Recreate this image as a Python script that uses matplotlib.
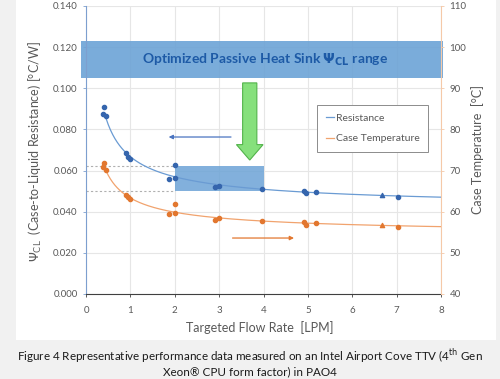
import matplotlib
matplotlib.use("Agg")
import matplotlib.pyplot as plt
import numpy as np
from matplotlib.lines import Line2D
from matplotlib.patches import Rectangle

# measured points (circle markers)
flow = [0.41, 0.39, 0.45, 0.90, 0.95, 0.99, 1.86, 2.00, 2.00, 2.91, 3.00, 3.96, 4.92, 4.95, 5.18, 7.02]
resistance = [0.0908, 0.0875, 0.0865, 0.0687, 0.0667, 0.0656, 0.0558, 0.0626, 0.0564,
              0.0519, 0.0525, 0.0509, 0.0502, 0.0490, 0.0496, 0.0470]
case_temp = [71.8, 70.8, 70.1, 64.1, 63.5, 63.0, 59.4, 61.9, 59.6,
             58.0, 58.4, 57.8, 57.5, 56.8, 57.3, 56.4]
# points drawn with triangle markers
flow_tri = [6.67]
resistance_tri = [0.0483]
case_temp_tri = [56.8]

x_ticks = [0, 1, 2, 3, 4, 5, 6, 7, 8]
y_ticks = [0.000, 0.020, 0.040, 0.060, 0.080, 0.100, 0.120, 0.140]
t_ticks = [40, 50, 60, 70, 80, 90, 100, 110]

BLUE = "#3565ad"
BLUE_LINE = "#6a9bd3"
ORANGE = "#e2772f"
ORANGE_LINE = "#f1a36e"
GREY = "#595959"


def fit_curve(x, y, xs):
    # y = a + b * x^-p, p picked by least squares
    x = np.asarray(x)
    y = np.asarray(y)
    best = None
    for p in np.linspace(0.2, 3.0, 141):
        A = np.column_stack([np.ones_like(x), x ** -p])
        coef, _, _, _ = np.linalg.lstsq(A, y, rcond=None)
        err = np.sum((A @ coef - y) ** 2)
        if best is None or err < best[0]:
            best = (err, p, coef)
    _, p, coef = best
    return coef[0] + coef[1] * xs ** -p


plt.rcParams["font.family"] = ["Lato", "DejaVu Sans"]

fig = plt.figure(figsize=(5.0, 3.79), dpi=100)
fig.patch.set_facecolor("#f1f1f1")
fig.patches.append(Rectangle((16 / 500, 1 - 340 / 379), 480 / 500, 340 / 379,
                             transform=fig.transFigure, facecolor="white",
                             edgecolor="none", zorder=-5))

ax = fig.add_axes([0.172, 0.2243, 0.71, 0.76])
ax.set_facecolor("none")
ax2 = ax.twinx()

ax.set_xlim(0, 8)
ax.set_ylim(0, 0.14)
ax2.set_ylim(40, 110)

ax.set_xticks(x_ticks)
ax.set_yticks(y_ticks)
ax.set_yticklabels([f"{v:.3f}" for v in y_ticks])
ax2.set_yticks(t_ticks)
ax.grid(True, color="#e6e6e6", linewidth=0.8)
ax.set_axisbelow(True)

for a in (ax, ax2):
    a.tick_params(labelsize=7, colors=GREY, length=2.5, width=0.6)
    a.spines["top"].set_visible(False)
ax.spines["left"].set_color("#7d9fcf")
ax.spines["bottom"].set_color("#404040")
ax.spines["right"].set_visible(False)
ax2.spines["left"].set_visible(False)
ax2.spines["bottom"].set_visible(False)
ax2.spines["right"].set_color("#f5c9a8")
ax2.tick_params(axis="y", colors="#f5c9a8", labelcolor=GREY)
ax.tick_params(axis="y", colors="#7d9fcf", labelcolor=GREY)
ax.tick_params(axis="x", colors="#404040", labelcolor=GREY, pad=6)

# optimized heat sink band
ax.add_patch(Rectangle((-0.12, 0.105), 8.17, 0.018, facecolor="#6ca3d6",
                       edgecolor="none", alpha=0.9, clip_on=False, zorder=1))
ax.text(4.03, 0.1138, r"Optimized Passive Heat Sink $\mathbf{\Psi}_{\mathbf{CL}}$ range",
        ha="center", va="center", fontsize=10, fontweight="bold", color="#1d5aa6", zorder=2)

# target box
ax.add_patch(Rectangle((2.0, 0.0502), 2.0, 0.0120, facecolor="#6ca3d6",
                       edgecolor="none", alpha=0.85, zorder=1))
ax.plot([0, 2], [0.0622, 0.0622], ls=(0, (2, 2)), color="#b0b0b0", lw=0.8, zorder=1)
ax.plot([0, 2], [0.0502, 0.0502], ls=(0, (2, 2)), color="#b0b0b0", lw=0.8, zorder=1)

# green arrow
ax.arrow(3.69, 0.1026, 0, -0.0375, width=0.32, head_width=0.6, head_length=0.0075,
         length_includes_head=True, facecolor="#86e07c", edgecolor="#52b34a",
         linewidth=0.8, zorder=3)

# axis pointer arrows
ax.annotate("", xy=(1.80, 0.0763), xytext=(3.33, 0.0763),
            arrowprops=dict(arrowstyle="-|>", color="#4a74c0", lw=0.9, mutation_scale=6))
ax2.annotate("", xy=(4.75, 53.6), xytext=(3.24, 53.6),
             arrowprops=dict(arrowstyle="-|>", color=ORANGE, lw=0.9, mutation_scale=6))

# trend curves
xs = np.linspace(0.45, 8, 300)
ax.plot(xs, fit_curve(flow + flow_tri, resistance + resistance_tri, xs),
        color=BLUE_LINE, lw=0.9, zorder=4)
ax2.plot(xs, fit_curve(flow + flow_tri, case_temp + case_temp_tri, xs),
         color=ORANGE_LINE, lw=0.9, zorder=4)

ax.scatter(flow, resistance, s=9, color=BLUE, zorder=5)
ax.scatter(flow_tri, resistance_tri, s=9, marker="^", color=BLUE, zorder=5)
ax2.scatter(flow, case_temp, s=9, color=ORANGE, zorder=5)
ax2.scatter(flow_tri, case_temp_tri, s=9, marker="^", color=ORANGE, zorder=5)

handles = [Line2D([], [], color=BLUE_LINE, lw=0.9), Line2D([], [], color=ORANGE_LINE, lw=0.9)]
leg = ax2.legend(handles, ["Resistance", "Case Temperature"], loc="upper left",
                 bbox_to_anchor=(0.637, 0.674), fontsize=7.5, handlelength=0.8,
                 handletextpad=0.2, labelspacing=1.1, borderpad=0.8,
                 fancybox=False, edgecolor="#8c8c8c", framealpha=1)
for t in leg.get_texts():
    t.set_color(GREY)
leg.get_frame().set_linewidth(0.7)

fig.text(0.07, 0.60, r"$\Psi_{\mathrm{CL}}$  (Case-to-Liquid Resistance) [°C/W]",
         rotation=90, ha="center", va="center", fontsize=9, color=GREY)
fig.text(0.956, 0.605, "Case Temperature  [°C]", rotation=90,
         ha="center", va="center", fontsize=9, color=GREY)
fig.text(0.52, 0.135, "Targeted Flow Rate  [LPM]", ha="center", va="center",
         fontsize=9, color=GREY)

fig.text(0.5, 0.061, r"Figure 4 Representative performance data measured on an Intel Airport Cove TTV (4$^{\mathrm{th}}$ Gen",
         ha="center", va="center", fontsize=8.4, color="#1a1a1a")
fig.text(0.5, 0.018, "Xeon® CPU form factor) in PAO4", ha="center", va="center",
         fontsize=8.4, color="#1a1a1a")

fig.savefig("out.png", dpi=100, facecolor=fig.get_facecolor())
